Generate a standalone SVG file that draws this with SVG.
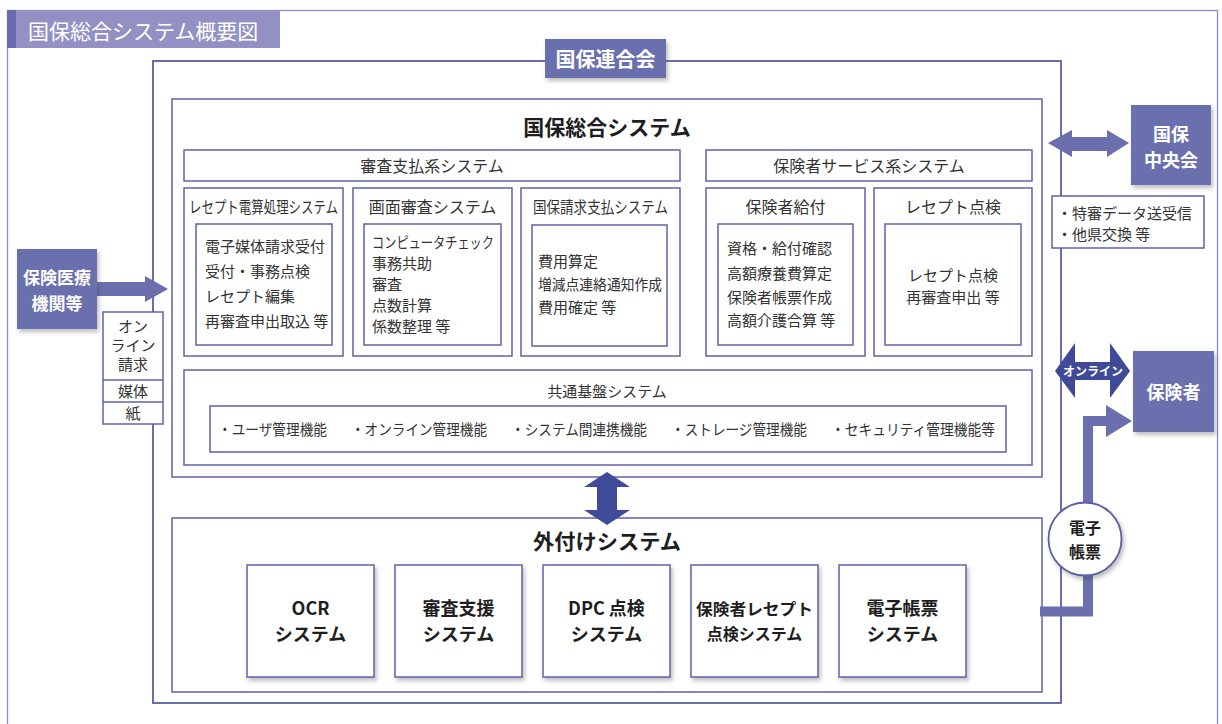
<svg xmlns="http://www.w3.org/2000/svg" width="1222" height="724" viewBox="0 0 1222 724">
<defs>
<style>
text{font-family:"Noto Sans CJK JP","Noto Sans",sans-serif;}
.frame{fill:none;stroke:#8a8cc6;stroke-width:1.3;}
.box{fill:#fff;stroke:#5f63ab;stroke-width:1.5;}
.big{fill:none;stroke:#5a5ea8;stroke-width:1.8;}
.pfill{fill:#6b6fae;}
.dfill{fill:#3f4b98;}
.t{font-size:15px;fill:#333;}
.tt{font-size:16px;fill:#333;}
.wb{font-weight:bold;fill:#fff;}
.bb{font-weight:bold;fill:#1e1e1e;}
.mid{text-anchor:middle;}
</style>
<filter id="sh" x="-20%" y="-20%" width="150%" height="150%">
<feDropShadow dx="2" dy="3" stdDeviation="2" flood-color="#444" flood-opacity="0.35"/>
</filter>
</defs>
<rect width="1222" height="724" fill="#fff"/>

<g id="outer-frame">
<rect class="frame" x="7.5" y="10.5" width="1210" height="740"/>
<rect x="7" y="10" width="273" height="38" fill="#9391c4"/>
<rect x="7" y="10" width="9" height="38" fill="#6c6aae"/>
<text x="28" y="38.5" font-size="21" fill="#fff">国保総合システム概要図</text>
</g>

<g id="kokuho-rengokai">
<rect class="big" x="153" y="61" width="908" height="642"/>
<rect x="545" y="39" width="121" height="39" class="pfill" filter="url(#sh)"/>
<text x="605.5" y="67" font-size="20" class="wb mid">国保連合会</text>
</g>

<g id="kokuho-sogo">
<rect class="box" x="172" y="99" width="870" height="378"/>
<text x="607" y="135" font-size="21" class="bb mid">国保総合システム</text>
</g>

<g id="shinsa-shiharai">
<rect class="box" x="184" y="150" width="496" height="31"/>
<text x="432" y="171.5" class="tt mid">審査支払系システム</text>
</g>
<g id="hokensha-service">
<rect class="box" x="706" y="150" width="326" height="31"/>
<text x="869" y="171.5" class="tt mid">保険者サービス系システム</text>
</g>

<g id="receipt-densan">
<rect class="box" x="184" y="188" width="159" height="168"/>
<text x="189" y="213" class="tt" textLength="149" lengthAdjust="spacingAndGlyphs">レセプト電算処理システム</text>
<rect class="box" x="196" y="224" width="136" height="121"/>
<text x="205" y="251.5" class="t">電子媒体請求受付</text>
<text x="205" y="276.5" class="t">受付・事務点検</text>
<text x="205" y="301.5" class="t">レセプト編集</text>
<text x="205" y="326.5" class="t">再審査申出取込 等</text>
</g>

<g id="gamen-shinsa">
<rect class="box" x="353" y="188" width="159" height="168"/>
<text x="432.5" y="213" class="tt mid">画面審査システム</text>
<rect class="box" x="364" y="224" width="137" height="121"/>
<text x="372" y="247.5" class="t" textLength="122" lengthAdjust="spacingAndGlyphs">コンピュータチェック</text>
<text x="372" y="268.5" class="t">事務共助</text>
<text x="372" y="290" class="t">審査</text>
<text x="372" y="311" class="t">点数計算</text>
<text x="372" y="332" class="t">係数整理 等</text>
</g>

<g id="kokuho-seikyu">
<rect class="box" x="521" y="188" width="159" height="168"/>
<text x="600.5" y="213" class="tt mid" textLength="135" lengthAdjust="spacingAndGlyphs">国保請求支払システム</text>
<rect class="box" x="532" y="225" width="135" height="121"/>
<text x="538" y="267" class="t">費用算定</text>
<text x="538" y="290" class="t" textLength="124" lengthAdjust="spacingAndGlyphs">増減点連絡通知作成</text>
<text x="538" y="312.5" class="t">費用確定 等</text>
</g>

<g id="hokensha-kyufu">
<rect class="box" x="706" y="188" width="159" height="168"/>
<text x="785.5" y="213" class="tt mid">保険者給付</text>
<rect class="box" x="718" y="224" width="135" height="121"/>
<text x="727" y="254" class="t">資格・給付確認</text>
<text x="727" y="278.5" class="t">高額療養費算定</text>
<text x="727" y="302.5" class="t">保険者帳票作成</text>
<text x="727" y="326" class="t">高額介護合算 等</text>
</g>

<g id="receipt-tenken">
<rect class="box" x="874" y="188" width="158" height="168"/>
<text x="953" y="213" class="tt mid">レセプト点検</text>
<rect class="box" x="885" y="224" width="136" height="121"/>
<text x="953" y="280.5" class="t mid">レセプト点検</text>
<text x="953" y="302.5" class="t mid">再審査申出 等</text>
</g>

<g id="kyotsu-kiban">
<rect class="box" x="184" y="370" width="848" height="95"/>
<text x="607" y="396.5" class="t mid">共通基盤システム</text>
<rect class="box" x="210" y="406" width="796" height="46"/>
<text x="218" y="434.5" class="t" textLength="109" lengthAdjust="spacingAndGlyphs">・ユーザ管理機能</text>
<text x="351" y="434.5" class="t" textLength="136" lengthAdjust="spacingAndGlyphs">・オンライン管理機能</text>
<text x="511" y="434.5" class="t" textLength="136" lengthAdjust="spacingAndGlyphs">・システム間連携機能</text>
<text x="671" y="434.5" class="t" textLength="136" lengthAdjust="spacingAndGlyphs">・ストレージ管理機能</text>
<text x="831" y="434.5" class="t" textLength="164" lengthAdjust="spacingAndGlyphs">・セキュリティ管理機能等</text>
</g>

<g id="sotozuke">
<rect class="box" x="172" y="518" width="870" height="174"/>
<text x="607" y="549" font-size="21" class="bb mid" textLength="148" lengthAdjust="spacingAndGlyphs">外付けシステム</text>
</g>
<g id="ocr">
<rect class="box" x="247" y="565" width="127" height="112" filter="url(#sh)"/>
<text x="310.5" y="615" font-size="18" class="bb mid">OCR</text>
<text x="310.5" y="641" font-size="18" class="bb mid">システム</text>
</g>
<g id="shinsa-shien">
<rect class="box" x="395" y="565" width="127" height="112" filter="url(#sh)"/>
<text x="458.5" y="615" font-size="18" class="bb mid">審査支援</text>
<text x="458.5" y="641" font-size="18" class="bb mid">システム</text>
</g>
<g id="dpc">
<rect class="box" x="543" y="565" width="127" height="112" filter="url(#sh)"/>
<text x="606.5" y="615" font-size="18" class="bb mid">DPC 点検</text>
<text x="606.5" y="641" font-size="18" class="bb mid">システム</text>
</g>
<g id="hokensha-receipt">
<rect class="box" x="691" y="565" width="127" height="112" filter="url(#sh)"/>
<text x="754.5" y="615" font-size="16" class="bb mid" textLength="117" lengthAdjust="spacingAndGlyphs">保険者レセプト</text>
<text x="754.5" y="639.5" font-size="16" class="bb mid">点検システム</text>
</g>
<g id="denshi-chohyo-sys">
<rect class="box" x="839" y="565" width="127" height="112" filter="url(#sh)"/>
<text x="902.5" y="615" font-size="18" class="bb mid">電子帳票</text>
<text x="902.5" y="641" font-size="18" class="bb mid">システム</text>
</g>

<g id="connectors">
<polygon class="pfill" points="97,282 145,282 145,276 168,289 145,302 145,296 97,296"/>
<polygon class="pfill" points="1048,143 1072,130 1072,137 1107,137 1107,130 1129,143 1107,157 1107,151 1072,151 1072,157"/>
<polygon class="dfill" points="1055,371 1075,343 1075,362 1110,362 1110,343 1130,371 1110,398 1110,380 1075,380 1075,398"/>
<text x="1093" y="375.5" font-size="12" class="wb mid">オンライン</text>
<polygon class="dfill" points="607,472 630,487 617,487 617,510 630,510 607,525 584,510 597,510 597,487 584,487"/>
<polyline points="1040,611.5 1088,611.5 1088,421 1108,421" fill="none" stroke="#6b6fae" stroke-width="10" stroke-linejoin="miter"/>
<polygon class="pfill" points="1106,405 1132,421 1106,437"/>
</g>

<g id="hoken-iryo">
<rect x="17" y="249" width="80" height="80" class="pfill" filter="url(#sh)"/>
<text x="57" y="283.5" font-size="17" class="wb mid">保険医療</text>
<text x="57" y="309.5" font-size="17" class="wb mid">機関等</text>
</g>

<g id="seikyu-media">
<rect class="box" x="103" y="312" width="60" height="112"/>
<line x1="103" y1="380" x2="163" y2="380" stroke="#5f63ab" stroke-width="1.5"/>
<line x1="103" y1="402" x2="163" y2="402" stroke="#5f63ab" stroke-width="1.5"/>
<text x="133" y="332" font-size="14" class="t mid">オン</text>
<text x="133" y="351" font-size="14" class="t mid">ライン</text>
<text x="133" y="370" font-size="14" class="t mid">請求</text>
<text x="133" y="397" class="t mid">媒体</text>
<text x="133" y="419" class="t mid">紙</text>
</g>

<g id="kokuho-chuokai">
<rect x="1131" y="105" width="80" height="80" class="pfill" filter="url(#sh)"/>
<text x="1171" y="141" font-size="18" class="wb mid">国保</text>
<text x="1171" y="167" font-size="18" class="wb mid">中央会</text>
</g>
<g id="chuokai-note">
<rect class="box" x="1052" y="196" width="152" height="52"/>
<text x="1057" y="219" class="t">・特審データ送受信</text>
<text x="1057" y="240" class="t">・他県交換 等</text>
</g>

<g id="hokensha">
<rect x="1133" y="351" width="81" height="81" class="pfill" filter="url(#sh)"/>
<text x="1173.5" y="398.5" font-size="18" class="wb mid">保険者</text>
</g>

<g id="denshi-chohyo">
<circle cx="1085" cy="539" r="36.5" fill="#fff" stroke="#5a5ea8" stroke-width="1.8" filter="url(#sh)"/>
<text x="1085" y="534" font-size="16" class="bb mid">電子</text>
<text x="1085" y="558" font-size="16" class="bb mid">帳票</text>
</g>
</svg>
